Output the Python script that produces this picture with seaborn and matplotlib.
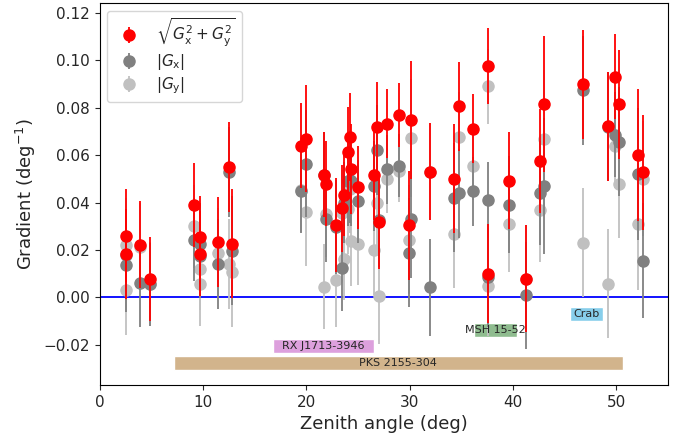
import matplotlib
matplotlib.use("Agg")
import matplotlib.pyplot as plt
import numpy as np
import pandas as pd
import seaborn as sns

# Werte
zenith = [2.5, 2.5, 3.9, 4.9, 9.1, 9.7, 9.7, 11.4, 12.5, 12.8,
          19.5, 20.0, 21.7, 21.9, 22.9, 23.4, 23.6, 24.0, 24.2, 24.3,
          25.0, 26.5, 26.8, 27.0, 27.8, 29.0, 29.9, 30.1, 32.0, 34.3,
          34.8, 36.1, 37.6, 37.6, 39.6, 41.3, 42.6, 43.0, 46.8, 49.2,
          49.9, 50.3, 52.1, 52.6]
g_tot = [0.0260, 0.0184, 0.0222, 0.0078, 0.0389, 0.0255, 0.0184, 0.0234, 0.0548, 0.0226,
         0.0640, 0.0669, 0.0518, 0.0480, 0.0305, 0.0376, 0.0430, 0.0615, 0.0677, 0.0543,
         0.0464, 0.0515, 0.0719, 0.0318, 0.0732, 0.0770, 0.0305, 0.0748, 0.0531, 0.0500,
         0.0807, 0.0711, 0.0978, 0.0100, 0.0493, 0.0079, 0.0577, 0.0815, 0.0900, 0.0723,
         0.0932, 0.0815, 0.0600, 0.0527]
g_x = [0.0135, 0.0180, 0.0060, 0.0054, 0.0243, 0.0226, 0.0175, 0.0142, 0.0527, 0.0197,
       0.0450, 0.0564, 0.0516, 0.0330, 0.0297, 0.0125, 0.0400, 0.0490, 0.0497, 0.0490,
       0.0405, 0.0470, 0.0623, 0.0326, 0.0540, 0.0556, 0.0188, 0.0330, 0.0042, 0.0420,
       0.0440, 0.0447, 0.0410, 0.0084, 0.0390, 0.0008, 0.0440, 0.0470, 0.0874, 0.0720,
       0.0686, 0.0656, 0.0520, 0.0155]
g_y = [0.0222, 0.0030, 0.0214, 0.0056, 0.0300, 0.0120, 0.0058, 0.0188, 0.0142, 0.0105,
       0.0455, 0.0360, 0.0045, 0.0350, 0.0075, 0.0355, 0.0160, 0.0372, 0.0456, 0.0238,
       0.0226, 0.0200, 0.0397, 0.0004, 0.0500, 0.0535, 0.0242, 0.0673, 0.0530, 0.0268,
       0.0677, 0.0556, 0.0890, 0.0046, 0.0310, 0.0079, 0.0368, 0.0670, 0.0230, 0.0058,
       0.0640, 0.0480, 0.0310, 0.0500]
g_err = [0.0196, 0.0190, 0.0184, 0.0176, 0.0176, 0.0172, 0.0180, 0.0190, 0.0190, 0.0230,
         0.0180, 0.0226, 0.0180, 0.0180, 0.0200, 0.0184, 0.0170, 0.0190, 0.0184, 0.0190,
         0.0176, 0.0190, 0.0190, 0.0200, 0.0146, 0.0134, 0.0230, 0.0250, 0.0205, 0.0230,
         0.0188, 0.0146, 0.0160, 0.0210, 0.0205, 0.0226, 0.0220, 0.0288, 0.0230, 0.0230,
         0.0180, 0.0230, 0.0280, 0.0243]

# Quellen: Name, Zenitbereich, Höhe im Plot
quellen = ["PKS 2155-304", "RX J1713-3946", "MSH 15-52", "Crab"]
quellen_von = [7.2, 16.8, 36.2, 45.5]
quellen_bis = [50.6, 26.5, 40.4, 48.7]
quellen_y = [-0.0278, -0.0207, -0.0139, -0.0071]
quellen_farbe = ["tan", "plum", "darkseagreen", "skyblue"]

df = pd.DataFrame({"zenith": zenith, "tot": g_tot, "gx": g_x, "gy": g_y, "err": g_err})

sns.set_style("ticks")
plt.rcParams["font.family"] = ["DejaVu Sans"]
plt.rcParams["mathtext.fontset"] = "dejavusans"

fig, ax = plt.subplots(figsize=(6.88, 4.45), dpi=100)
fig.subplots_adjust(left=0.145, right=0.971, top=0.993, bottom=0.135)

for spine in ax.spines.values():
    spine.set_color("black")

ax.axhline(0, color="blue", lw=1.3, zorder=1)

ly = ax.errorbar(df["zenith"], df["gy"], yerr=df["err"], fmt="o", color="silver",
                 ms=8, elinewidth=1.3, label=r"$|G_\mathrm{y}|$", zorder=2)
lx = ax.errorbar(df["zenith"], df["gx"], yerr=df["err"], fmt="o", color="grey",
                 ms=8, elinewidth=1.3, label=r"$|G_\mathrm{x}|$", zorder=3)
lt = ax.errorbar(df["zenith"], df["tot"], yerr=df["err"], fmt="o", color="red",
                 ms=8, elinewidth=1.3, label=r"$\sqrt{G_\mathrm{x}^2+G_\mathrm{y}^2}$", zorder=4)

### die Balken für die Quellen
for name, a, b, y, c in zip(quellen, quellen_von, quellen_bis, quellen_y, quellen_farbe):
    ax.barh(y, b - a, left=a, height=0.0058, color=c, zorder=1)
    ax.text((a + b) / 2, y, name, ha="center", va="center", fontsize=8, zorder=5)

ax.set_xlim(0, 55)
ax.set_ylim(-0.037, 0.1242)
ax.set_yticks([-0.02, 0.0, 0.02, 0.04, 0.06, 0.08, 0.10, 0.12])
ax.tick_params(labelsize=11)
ax.set_xlabel("Zenith angle (deg)", fontsize=13)
ax.set_ylabel(r"Gradient (deg$^{-1}$)", fontsize=13)
ax.legend(handles=[lt, lx, ly], loc="upper left", fontsize=11, labelspacing=0.2)

fig.savefig("out.png", dpi=100)
